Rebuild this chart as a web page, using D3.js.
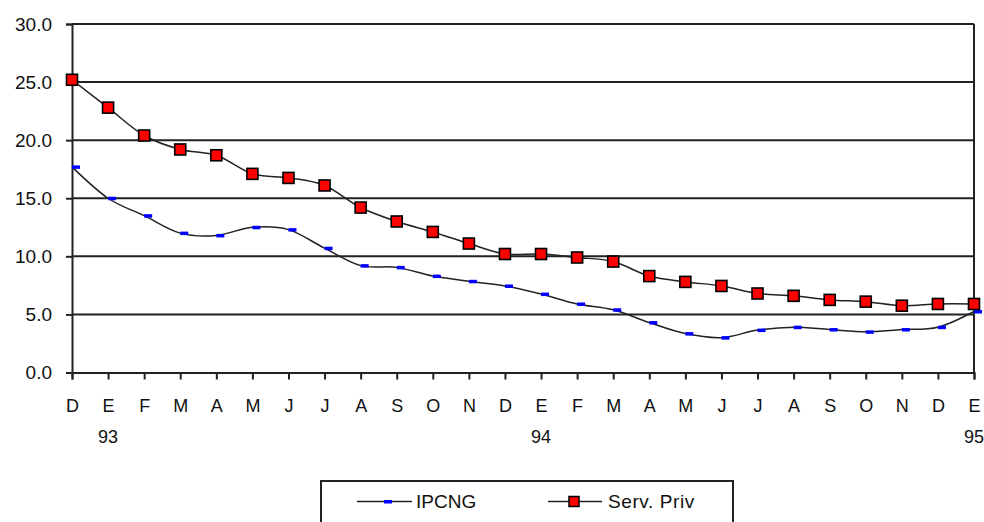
<!DOCTYPE html>
<html>
<head>
<meta charset="utf-8">
<script src="https://cdn.jsdelivr.net/npm/d3@7"></script>
<style>
  html, body { margin: 0; padding: 0; background: #fff; }
  svg { display: block; }
  text { font-family: "Liberation Sans", Arial, sans-serif; fill: #111; }
</style>
</head>
<body>
<svg id="chart" width="984" height="522"></svg>
<script>
// Monthly series, December 1993 through January 1995
const months = ["D","E","F","M","A","M","J","J","A","S","O","N",
                "D","E","F","M","A","M","J","J","A","S","O","N",
                "D","E"];
const years = ["","93","","","","","","","","","","",
               "","94","","","","","","","","","","",
               "","95"];
const ipcng = [17.7, 15.0, 13.5, 12.0, 11.8, 12.5, 12.3, 10.7, 9.2, 9.05, 8.3, 7.85, 7.45,
               6.75, 5.9, 5.4, 4.3, 3.35, 3.0, 3.65, 3.9, 3.7, 3.5, 3.7, 3.9, 5.25];
const servPriv = [25.2, 22.8, 20.4, 19.2, 18.7, 17.1, 16.75, 16.1, 14.2, 13.0, 12.1, 11.1, 10.2,
                  10.2, 9.9, 9.55, 8.3, 7.8, 7.45, 6.8, 6.6, 6.25, 6.1, 5.75, 5.9, 5.9];
const yTicks = [0, 5, 10, 15, 20, 25, 30];
const seriesNames = ["IPCNG", "Serv. Priv"];

const svg = d3.select("#chart");
const plot = { left: 72, right: 974, top: 24, bottom: 372.5 };

const x = d3.scalePoint().domain(d3.range(months.length)).range([plot.left, plot.right]);
const y = d3.scaleLinear().domain([0, 30]).range([plot.bottom, plot.top]);

// horizontal grid lines
svg.append("g").selectAll("line")
  .data(yTicks.filter(d => d > 0))
  .join("line")
  .attr("x1", plot.left).attr("x2", plot.right)
  .attr("y1", d => y(d)).attr("y2", d => y(d))
  .attr("stroke", "#222").attr("stroke-width", 2);

// right border of the plot
svg.append("line")
  .attr("x1", plot.right).attr("x2", plot.right).attr("y1", plot.top).attr("y2", plot.bottom)
  .attr("stroke", "#222").attr("stroke-width", 2);

// y axis
const yAxis = svg.append("g")
  .attr("transform", `translate(${plot.left},0)`)
  .call(d3.axisLeft(y).tickValues(yTicks).tickFormat(d3.format(".1f")).tickSize(6).tickPadding(14));
yAxis.select(".domain").attr("stroke", "#222").attr("stroke-width", 2);
yAxis.selectAll(".tick line").attr("stroke", "#222").attr("stroke-width", 2);
yAxis.selectAll(".tick text").attr("font-size", 19).attr("fill", "#111")
  .attr("font-family", "'Liberation Sans', Arial, sans-serif");

// x axis
const xAxis = svg.append("g")
  .attr("transform", `translate(0,${plot.bottom})`)
  .call(d3.axisBottom(x).tickFormat(i => months[i]).tickSize(7).tickPadding(20));
xAxis.select(".domain").attr("stroke", "#222").attr("stroke-width", 2);
xAxis.selectAll(".tick line").attr("stroke", "#222").attr("stroke-width", 2);
xAxis.selectAll(".tick text").attr("font-size", 18).attr("fill", "#111")
  .attr("font-family", "'Liberation Sans', Arial, sans-serif");

// year labels under the January ticks
svg.append("g").selectAll("text")
  .data(years.map((t, i) => ({t, i})).filter(d => d.t))
  .join("text")
  .attr("x", d => x(d.i)).attr("y", 443)
  .attr("text-anchor", "middle").attr("font-size", 18)
  .text(d => d.t);

const line = d3.line()
  .x((d, i) => x(i)).y(d => y(d))
  .curve(d3.curveCatmullRom.alpha(0));

// IPCNG series
svg.append("path").datum(ipcng)
  .attr("d", line).attr("fill", "none")
  .attr("stroke", "#222").attr("stroke-width", 1.5);
svg.append("g").selectAll("rect")
  .data(ipcng)
  .join("rect")
  .attr("x", (d, i) => x(i)).attr("y", d => y(d) - 1.5)
  .attr("width", 8).attr("height", 3.5)
  .attr("fill", "#0000ff");

// Serv. Priv series
svg.append("path").datum(servPriv)
  .attr("d", line).attr("fill", "none")
  .attr("stroke", "#222").attr("stroke-width", 1.5);
svg.append("g").selectAll("rect")
  .data(servPriv)
  .join("rect")
  .attr("x", (d, i) => x(i) - 5.5).attr("y", d => y(d) - 5.5)
  .attr("width", 11).attr("height", 11)
  .attr("fill", "#ff0000").attr("stroke", "#000").attr("stroke-width", 1.6);

// legend
const legend = svg.append("g");
legend.append("rect")
  .attr("x", 321).attr("y", 481).attr("width", 412).attr("height", 80)
  .attr("fill", "#fff").attr("stroke", "#222").attr("stroke-width", 2);

const ly = 501.5;
// IPCNG entry
legend.append("line").attr("x1", 357).attr("x2", 412).attr("y1", ly).attr("y2", ly)
  .attr("stroke", "#222").attr("stroke-width", 1.5);
legend.append("rect").attr("x", 384).attr("y", ly - 1.5).attr("width", 8).attr("height", 3.5)
  .attr("fill", "#0000ff");
legend.append("text").attr("x", 416).attr("y", ly + 6.5).attr("font-size", 19).text(seriesNames[0]);

// Serv. Priv entry
legend.append("line").attr("x1", 548).attr("x2", 602).attr("y1", ly).attr("y2", ly)
  .attr("stroke", "#222").attr("stroke-width", 1.5);
legend.append("rect").attr("x", 569).attr("y", ly - 5).attr("width", 10).attr("height", 10)
  .attr("fill", "#ff0000").attr("stroke", "#000").attr("stroke-width", 1.5);
legend.append("text").attr("x", 608).attr("y", ly + 6.5).attr("font-size", 19)
  .attr("letter-spacing", 0.6).text(seriesNames[1]);
</script>
</body>
</html>
